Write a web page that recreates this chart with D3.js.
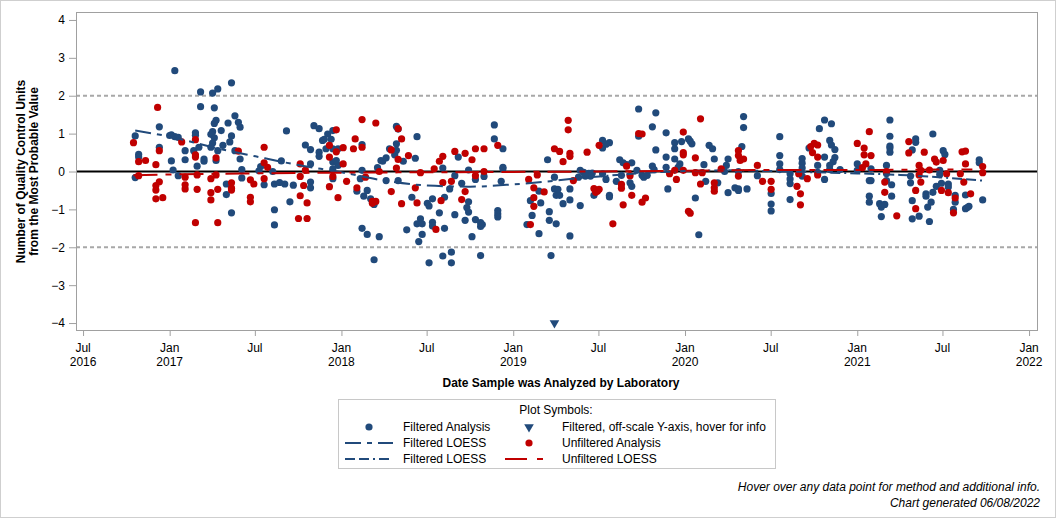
<!DOCTYPE html>
<html><head><meta charset="utf-8">
<script src="https://cdn.jsdelivr.net/npm/d3@7"></script>
<style>
html,body{margin:0;padding:0;background:#fff;}
svg text{font-family:"Liberation Sans",Arial,sans-serif;fill:#000;}
</style></head>
<body>
<svg id="chart" width="1056" height="518"></svg>
<script>
// ---- data (dates as decimal years, values in QC units) ----
const filteredPts = [
[2017.03,2.66],[2017.36,2.34],[2017.18,2.10],[2017.25,2.07],[2017.28,2.18],[2017.18,1.71],[2017.26,1.68],[2016.94,1.18],
[2016.80,0.94],[2016.82,0.45],[2016.82,0.38],[2016.80,-0.16],[2016.94,0.64],[2017.01,0.97],[2017.03,0.92],[2017.00,0.95],
[2017.05,0.90],[2017.01,0.28],[2017.02,0.04],[2017.05,-0.11],[2017.09,0.55],[2017.09,0.31],[2017.15,1.02],[2017.15,0.96],
[2017.14,0.55],[2017.17,0.64],[2017.20,0.33],[2017.20,0.27],[2017.16,0.14],[2017.25,1.05],[2017.27,1.35],[2017.26,1.27],
[2017.24,0.98],[2017.26,0.89],[2017.25,0.75],[2017.24,0.64],[2017.30,1.08],[2017.31,0.69],[2017.28,0.55],[2017.27,0.29],
[2017.34,1.28],[2017.36,0.94],[2017.35,0.78],[2017.38,1.47],[2017.40,1.30],[2017.41,1.17],[2017.38,0.55],[2017.41,0.33],
[2017.42,0.05],[2017.42,-0.17],[2017.33,-0.33],[2017.33,-0.61],[2017.36,-1.09],[2017.53,0.13],[2017.52,0.02],[2017.55,-0.35],
[2017.60,0.00],[2017.61,-1.01],[2017.61,-1.41],[2017.61,-0.33],[2017.64,-0.29],[2017.67,-0.33],[2017.65,0.28],[2017.68,1.07],
[2017.72,-0.36],[2017.70,-0.80],[2017.79,0.70],[2017.82,0.58],[2017.82,0.20],[2017.82,-0.28],[2017.82,-0.43],[2017.84,1.21],
[2017.87,1.13],[2017.87,0.51],[2017.87,0.40],[2017.89,0.82],[2017.90,0.85],[2017.92,0.99],[2017.95,1.08],[2017.94,0.85],
[2017.91,0.60],[2017.95,0.25],[2017.95,-0.19],[2017.98,0.16],[2017.95,0.60],[2017.98,0.60],[2017.97,0.29],[2017.95,0.07],
[2018.12,0.71],[2018.12,0.03],[2018.11,-0.19],[2018.09,-0.52],[2018.13,-0.65],[2018.15,-0.50],[2018.12,-1.50],[2018.15,-1.66],
[2018.22,-1.72],[2018.19,-2.33],[2018.17,-0.72],[2018.19,-0.87],[2018.18,-0.80],[2018.21,0.10],[2018.23,0.29],[2018.24,0.27],
[2018.26,-0.24],[2018.26,0.36],[2018.28,0.60],[2018.32,1.19],[2018.33,1.12],[2018.32,0.73],[2018.32,0.56],[2018.31,0.44],
[2018.33,-0.24],[2018.36,0.27],[2018.38,-1.54],[2018.43,0.35],[2018.44,0.92],[2018.41,-0.68],[2018.44,-1.38],[2018.46,-1.25],
[2018.47,-1.38],[2018.47,-1.66],[2018.45,-1.85],[2018.50,-0.84],[2018.51,-0.91],[2018.53,-0.72],[2018.53,-1.34],[2018.53,-1.44],
[2018.51,-2.41],[2018.57,-1.09],[2018.59,-2.23],[2018.60,-1.50],[2018.60,-0.68],[2018.59,0.09],[2018.63,-0.46],[2018.64,-2.13],
[2018.64,-2.41],[2018.66,-0.11],[2018.66,-1.14],[2018.68,0.38],[2018.70,-0.31],[2018.72,-1.29],[2018.73,-0.95],[2018.74,-0.80],
[2018.74,-1.07],[2018.74,0.04],[2018.76,-1.72],[2018.78,-1.27],[2018.78,-0.21],[2018.81,-2.22],[2018.81,-1.35],[2018.81,-1.45],
[2018.82,-1.40],[2018.83,-0.13],[2018.89,0.86],[2018.89,1.23],[2018.93,-0.26],[2018.94,0.60],[2018.94,0.07],[2018.94,0.11],
[2018.91,-1.03],[2018.91,-1.12],[2018.91,-1.20],[2019.08,-1.40],[2019.11,-1.16],[2019.10,-0.77],[2019.15,-1.64],[2019.16,-0.83],
[2019.15,-0.52],[2019.21,-1.29],[2019.21,-1.06],[2019.20,0.31],[2019.22,-2.22],[2019.24,-0.15],[2019.24,-0.46],[2019.25,-0.63],
[2019.27,-0.63],[2019.25,-1.38],[2019.29,-0.85],[2019.33,-0.75],[2019.33,-1.70],[2019.33,-0.46],[2019.38,-0.15],[2019.26,-0.47],
[2019.73,1.65],[2019.83,1.55],[2019.81,1.18],[2019.89,1.02],[2019.73,0.93],[2019.52,0.82],[2019.56,0.76],[2019.52,0.62],
[2019.54,0.72],[2019.39,0.03],[2019.41,-0.02],[2019.44,-0.05],[2019.46,-0.04],[2019.45,-0.12],[2019.42,-0.12],[2019.39,-0.90],
[2019.52,-0.06],[2019.54,-0.21],[2019.62,0.31],[2019.64,0.23],[2019.66,0.18],[2019.69,0.23],[2019.60,-0.26],[2019.63,-0.10],
[2019.68,-0.30],[2019.69,-0.39],[2019.56,-0.63],[2019.56,-0.67],[2019.47,-0.63],[2019.72,0.03],[2019.75,-0.10],[2019.76,-0.15],
[2019.78,-0.10],[2019.81,0.14],[2019.83,0.57],[2019.82,0.05],[2019.89,0.38],[2019.89,0.11],[2019.90,-0.46],[2019.94,0.76],
[2019.94,0.60],[2019.94,0.33],[2019.98,0.79],[2020.02,0.86],[2020.03,0.80],[2020.04,0.73],[2019.96,0.11],[2019.97,0.20],
[2020.06,-0.70],[2020.08,-1.67],[2020.11,0.18],[2020.14,0.69],[2020.16,0.60],[2020.17,0.33],[2020.12,-0.26],[2020.19,-0.30],
[2020.25,0.33],[2020.25,-0.56],[2020.24,0.16],[2020.34,1.45],[2020.34,1.16],[2020.33,0.66],[2020.23,0.00],[2020.29,-0.43],
[2020.31,-0.46],[2020.31,-0.50],[2020.36,-0.46],[2020.31,0.00],[2020.42,-0.11],[2020.55,0.92],[2020.55,0.42],[2020.55,0.20],
[2020.55,0.05],[2020.50,-0.58],[2020.50,-0.86],[2020.50,-1.04],[2020.61,-0.06],[2020.61,-0.20],[2020.61,-0.32],[2020.61,-0.74],
[2020.68,0.34],[2020.68,0.22],[2020.68,0.09],[2020.68,-0.12],[2020.72,0.62],[2020.77,0.16],[2020.77,-0.02],[2020.78,1.13],
[2020.81,1.36],[2020.85,1.26],[2020.81,0.38],[2020.81,-0.21],[2020.84,0.82],[2020.85,0.70],[2020.87,0.58],[2020.87,0.37],
[2020.86,0.26],[2020.84,0.16],[2020.84,0.05],[2020.90,0.05],[2021.00,0.20],[2021.00,0.03],[2021.07,-0.24],[2021.08,-0.24],
[2021.07,-0.65],[2021.07,-0.81],[2021.13,-0.85],[2021.14,-0.94],[2021.14,-1.19],[2021.17,0.16],[2021.08,0.07],[2021.19,1.36],
[2021.19,0.93],[2021.19,0.67],[2021.19,0.62],[2021.19,0.51],[2021.17,-0.05],[2021.17,-0.24],[2021.20,-0.35],[2021.20,-0.65],
[2021.16,-0.87],[2021.32,-0.77],[2021.32,-1.25],[2021.36,-1.18],[2021.31,-0.12],[2021.31,-0.30],[2021.34,0.86],[2021.34,0.77],
[2021.32,0.57],[2021.41,-0.94],[2021.42,-1.32],[2021.40,-0.59],[2021.40,-0.65],[2021.44,0.99],[2021.44,-0.55],[2021.43,-0.81],
[2021.46,-0.39],[2021.48,0.03],[2021.48,-0.08],[2021.49,-0.31],[2021.50,0.55],[2021.51,0.45],[2021.53,-0.33],[2021.53,-0.41],
[2021.57,-0.63],[2021.57,-0.81],[2021.56,-1.00],[2021.63,-0.62],[2021.63,-0.98],[2021.64,-0.95],[2021.65,-0.92],[2021.71,0.31],
[2021.71,0.23],[2021.73,-0.75]
];
const unfilteredPts = [
[2016.93,1.69],[2016.79,0.76],[2016.82,0.26],[2016.86,0.29],[2016.92,0.18],[2016.94,0.55],[2016.82,-0.11],[2016.94,-0.27],
[2016.92,-0.37],[2016.92,-0.49],[2016.92,-0.72],[2016.96,-0.69],[2017.07,0.78],[2017.15,0.84],[2017.15,0.44],[2017.15,0.38],
[2017.09,-0.15],[2017.09,-0.35],[2017.09,-0.46],[2017.16,-0.09],[2017.16,-0.47],[2017.15,-1.35],[2017.24,-0.19],[2017.24,-0.56],
[2017.24,-0.75],[2017.27,0.36],[2017.27,-0.09],[2017.28,-0.47],[2017.28,-1.35],[2017.36,-0.30],[2017.36,-0.44],[2017.36,-0.49],
[2017.40,0.54],[2017.47,-0.22],[2017.49,-0.33],[2017.47,-0.68],[2017.47,-0.80],[2017.55,0.64],[2017.55,0.23],[2017.57,0.11],
[2017.55,-0.19],[2017.76,0.20],[2017.76,-0.13],[2017.79,0.04],[2017.78,-0.37],[2017.76,-0.64],[2017.80,-0.83],[2017.75,-1.24],
[2017.80,-1.24],[2017.93,-0.40],[2017.93,0.69],[2017.93,0.38],[2017.97,1.10],[2017.98,-0.69],[2017.95,-0.13],[2018.01,0.63],
[2017.97,0.52],[2018.01,0.20],[2018.03,-0.26],[2018.08,0.86],[2018.07,0.60],[2018.12,1.37],[2018.12,0.64],[2018.09,-0.43],
[2018.14,-0.15],[2018.20,1.28],[2018.18,-0.79],[2018.18,-0.84],[2018.20,-0.79],[2018.22,0.00],[2018.29,-0.53],[2018.29,0.57],
[2018.33,1.13],[2018.35,0.86],[2018.33,0.32],[2018.32,0.09],[2018.35,-0.85],[2018.39,0.42],[2018.43,-0.43],[2018.44,-0.83],
[2018.46,-0.03],[2018.54,0.07],[2018.57,0.27],[2018.59,0.40],[2018.59,-0.29],[2018.58,-0.77],[2018.55,-1.53],[2018.64,-0.26],
[2018.66,0.53],[2018.72,0.48],[2018.76,0.31],[2018.78,0.60],[2018.83,0.60],[2018.78,-0.11],[2018.72,-0.53],[2018.70,-0.74],
[2018.83,0.00],[2018.91,0.69],[2019.09,-0.21],[2019.12,-0.43],[2019.12,-0.69],[2019.12,-0.92],[2019.10,-1.40],[2019.14,-0.09],
[2019.18,-0.54],[2019.24,0.60],[2019.27,0.53],[2019.29,0.26],[2019.33,0.48],[2019.33,0.40],[2019.32,1.35],[2019.32,1.10],
[2019.35,-0.24],[2019.43,0.51],[2019.50,0.69],[2019.47,-0.45],[2019.49,-0.52],[2019.50,-0.47],[2019.48,-0.55],[2019.63,-0.34],
[2019.63,-0.44],[2019.64,-0.88],[2019.58,-1.38],[2019.66,0.14],[2019.68,-0.11],[2019.69,-0.63],[2019.73,1.00],[2019.75,0.99],
[2019.75,-0.81],[2019.77,-0.70],[2019.94,0.03],[2019.95,-0.21],[2019.91,-0.06],[2019.99,1.04],[2019.99,0.50],[2019.99,0.44],
[2019.99,0.03],[2020.02,-1.05],[2020.03,-1.10],[2020.06,0.36],[2020.06,-0.03],[2020.09,1.39],[2020.10,-0.03],[2020.09,-0.33],
[2020.17,-0.30],[2020.17,-0.43],[2020.17,-0.52],[2020.21,0.07],[2020.31,0.55],[2020.31,0.42],[2020.32,0.29],[2020.34,0.33],
[2020.31,-0.12],[2020.42,0.16],[2020.45,-0.26],[2020.50,-0.26],[2020.50,-0.47],[2020.65,-0.39],[2020.67,-0.59],[2020.67,-0.88],
[2020.66,-0.06],[2020.71,-0.19],[2020.73,0.66],[2020.75,0.74],[2020.77,0.70],[2020.74,0.50],[2020.77,0.38],[2020.77,-0.09],
[2021.00,0.74],[2021.04,0.62],[2021.04,0.44],[2021.07,1.05],[2021.08,0.42],[2021.05,0.20],[2021.03,0.10],[2021.16,-0.28],
[2021.16,-0.55],[2021.30,0.79],[2021.30,0.49],[2021.39,0.51],[2021.36,0.16],[2021.37,0.03],[2021.36,-0.09],[2021.37,-0.28],
[2021.34,-0.50],[2021.34,-0.98],[2021.23,-1.17],[2021.17,0.00],[2021.45,0.33],[2021.46,0.25],[2021.50,0.29],[2021.42,0.04],
[2021.52,-0.06],[2021.49,-0.50],[2021.53,-0.56],[2021.57,-0.70],[2021.56,-1.09],[2021.61,0.52],[2021.63,0.54],[2021.63,0.20],
[2021.60,-0.06],[2021.62,-0.28],[2021.66,-0.59],[2021.73,0.13],[2021.73,-0.03]
];
// off-scale filtered result, drawn at the bottom of the Y axis
const offscalePts = [[2019.24,-4.0]];
// LOESS fits
const filteredLoessA = [[2016.80,1.08],[2017.0,0.92],[2017.25,0.64],[2017.5,0.40],[2017.75,0.17],[2018.0,-0.02],[2018.25,-0.24],[2018.5,-0.37],[2018.75,-0.40],[2019.0,-0.34],[2019.25,-0.24],[2019.38,-0.17]];
const filteredLoessB = [[2019.38,-0.17],[2019.5,-0.13],[2019.75,-0.04],[2020.0,0.01],[2020.25,0.03],[2020.5,0.01],[2020.75,-0.02],[2021.0,-0.05],[2021.25,-0.09],[2021.5,-0.16],[2021.73,-0.24]];
const unfilteredLoess = [[2016.79,-0.10],[2017.0,-0.08],[2017.5,-0.05],[2018.0,-0.03],[2018.5,-0.02],[2019.0,-0.01],[2019.5,0.0],[2020.0,0.02],[2020.5,0.04],[2021.0,0.04],[2021.5,0.05],[2021.67,0.05]];
const yTicks = [-4,-3,-2,-1,0,1,2,3,4];
const refLines = [-2,2];
const legendItems = ["Filtered Analysis","Filtered, off-scale Y-axis, hover for info","Filtered LOESS","Unfiltered Analysis","Filtered LOESS","Unfiltered LOESS"];

// ---- drawing ----
const BLUE = "#214a7b", RED = "#c00000";
function dy(y){const yr=Math.floor(y);const s=Date.UTC(yr,0,1),e=Date.UTC(yr+1,0,1);return new Date(s+(y-yr)*(e-s));}
const svg = d3.select("#chart");
const L=76,R=1038,T=12,B=331;
const x = d3.scaleUtc().domain([new Date(Date.UTC(2016,5,16)),new Date(Date.UTC(2022,0,20))]).range([L,R]);
const y = d3.scaleLinear().domain([-4.21,4.21]).range([B,T]);

// outer border
svg.append("rect").attr("x",0.5).attr("y",0.5).attr("width",1055).attr("height",517).attr("fill","none").attr("stroke","#cfcfcf");

// reference lines
svg.selectAll(".ref").data(refLines).join("line").attr("x1",L).attr("x2",R)
  .attr("y1",d=>y(d)).attr("y2",d=>y(d)).attr("stroke","#a8a8a8").attr("stroke-width",2).attr("stroke-dasharray","4,3");
svg.append("line").attr("x1",L).attr("x2",R).attr("y1",y(0)).attr("y2",y(0)).attr("stroke","#000").attr("stroke-width",2);

// points
svg.append("g").selectAll("circle").data(filteredPts).join("circle")
  .attr("cx",d=>x(dy(d[0]))).attr("cy",d=>y(d[1])).attr("r",3.6).attr("fill",BLUE);
svg.append("g").selectAll("circle").data(unfilteredPts).join("circle")
  .attr("cx",d=>x(dy(d[0]))).attr("cy",d=>y(d[1])).attr("r",3.6).attr("fill",RED);
const tri = d3.symbol().type(d3.symbolTriangle).size(40);
svg.append("g").selectAll("path").data(offscalePts).join("path")
  .attr("d",tri).attr("transform",d=>`translate(${x(dy(d[0]))},${y(d[1])}) rotate(180)`).attr("fill",BLUE);

// LOESS lines
const line = d3.line().x(d=>x(dy(d[0]))).y(d=>y(d[1])).curve(d3.curveMonotoneX);
svg.append("path").datum(filteredLoessA).attr("d",line).attr("fill","none").attr("stroke",BLUE).attr("stroke-width",2).attr("stroke-dasharray","16,6,5,6");
svg.append("path").datum(filteredLoessB).attr("d",line).attr("fill","none").attr("stroke",BLUE).attr("stroke-width",2).attr("stroke-dasharray","10,4,10,4,2,4");
svg.append("path").datum(unfilteredLoess).attr("d",line).attr("fill","none").attr("stroke",RED).attr("stroke-width",2).attr("stroke-dasharray","24,8,6,8");

// frame
svg.append("rect").attr("x",L+0.5).attr("y",T+0.5).attr("width",R-L-1).attr("height",B-T-1).attr("fill","none").attr("stroke","#a0a0a0");

// y axis
const yAxis = svg.append("g").attr("transform",`translate(${L},0)`)
  .call(d3.axisLeft(y).tickValues(yTicks).tickSize(7).tickPadding(4).tickFormat(d3.format("d")));
yAxis.select(".domain").remove();
yAxis.selectAll("line").attr("stroke","#a0a0a0");
yAxis.selectAll("text").attr("font-size",12).attr("font-family","Liberation Sans, Arial, sans-serif");

// x axis
const xTicks = d3.utcMonth.every(6).range(new Date(Date.UTC(2016,6,1)),new Date(Date.UTC(2022,0,2)));
const xAxis = svg.append("g").attr("transform",`translate(0,${B})`)
  .call(d3.axisBottom(x).tickValues(xTicks).tickSize(5).tickFormat(""));
xAxis.select(".domain").remove();
xAxis.selectAll("line").attr("stroke","#a0a0a0");
const monthFmt = d3.utcFormat("%b"), yearFmt = d3.utcFormat("%Y");
xTicks.forEach((t,i)=>{
  svg.append("text").attr("x",x(t)).attr("y",352).attr("text-anchor","middle").attr("font-size",12).text(monthFmt(t));
  if(t.getUTCMonth()===0 || i===0)
    svg.append("text").attr("x",x(t)).attr("y",366).attr("text-anchor","middle").attr("font-size",12).text(yearFmt(t));
});

// axis titles
svg.append("text").attr("transform","translate(25,171.5) rotate(-90)").attr("text-anchor","middle")
  .attr("font-size",12).attr("font-weight","bold").text("Number of Quality Control Units");
svg.append("text").attr("transform","translate(38,171.5) rotate(-90)").attr("text-anchor","middle")
  .attr("font-size",12).attr("font-weight","bold").text("from the Most Probable Value");
svg.append("text").attr("x",561).attr("y",387).attr("text-anchor","middle")
  .attr("font-size",12).attr("font-weight","bold").text("Date Sample was Analyzed by Laboratory");

// legend
const lg = svg.append("g");
lg.append("rect").attr("x",338.5).attr("y",399.5).attr("width",437).attr("height",69).attr("fill","#fff").attr("stroke","#c8c8c8");
lg.append("text").attr("x",556).attr("y",414).attr("text-anchor","middle").attr("font-size",12).text("Plot Symbols:");
const rows=[427,443,459], c1=369, c2=529, t1=403, t2=562;
lg.append("circle").attr("cx",c1).attr("cy",rows[0]).attr("r",3.6).attr("fill",BLUE);
lg.append("text").attr("x",t1).attr("y",rows[0]+4).attr("font-size",12).text(legendItems[0]);
lg.append("path").attr("d",tri).attr("transform",`translate(${c2},${rows[0]}) rotate(180)`).attr("fill",BLUE);
lg.append("text").attr("x",t2).attr("y",rows[0]+4).attr("font-size",12).text(legendItems[1]);
lg.append("line").attr("x1",345).attr("x2",393).attr("y1",rows[1]).attr("y2",rows[1]).attr("stroke",BLUE).attr("stroke-width",2).attr("stroke-dasharray","16,6,5,6");
lg.append("text").attr("x",t1).attr("y",rows[1]+4).attr("font-size",12).text(legendItems[2]);
lg.append("circle").attr("cx",c2).attr("cy",rows[1]).attr("r",3.6).attr("fill",RED);
lg.append("text").attr("x",t2).attr("y",rows[1]+4).attr("font-size",12).text(legendItems[3]);
lg.append("line").attr("x1",345).attr("x2",393).attr("y1",rows[2]).attr("y2",rows[2]).attr("stroke",BLUE).attr("stroke-width",2).attr("stroke-dasharray","10,4,10,4,2,4");
lg.append("text").attr("x",t1).attr("y",rows[2]+4).attr("font-size",12).text(legendItems[4]);
lg.append("line").attr("x1",505).attr("x2",543).attr("y1",rows[2]).attr("y2",rows[2]).attr("stroke",RED).attr("stroke-width",2).attr("stroke-dasharray","22,10,6,10");
lg.append("text").attr("x",t2).attr("y",rows[2]+4).attr("font-size",12).text(legendItems[5]);

// footnotes
svg.append("text").attr("x",1040).attr("y",491).attr("text-anchor","end").attr("font-size",12).attr("font-style","italic")
  .text("Hover over any data point for method and additional info.");
svg.append("text").attr("x",1040).attr("y",507).attr("text-anchor","end").attr("font-size",12).attr("font-style","italic")
  .text("Chart generated 06/08/2022");
</script>
</body></html>
